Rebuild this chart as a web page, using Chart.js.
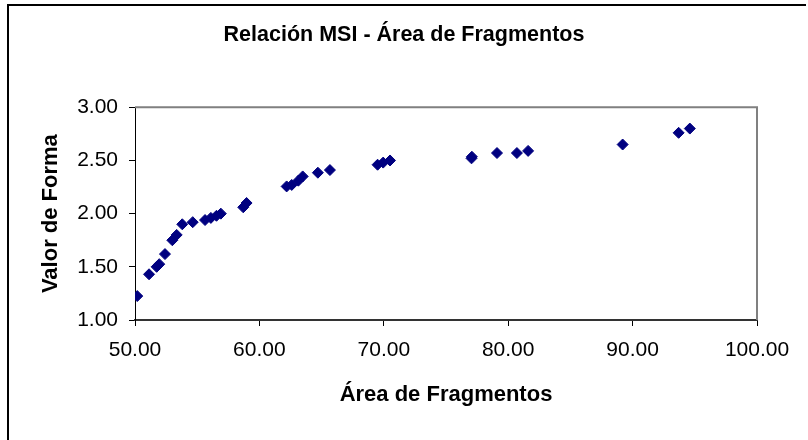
<!DOCTYPE html>
<html>
<head>
<meta charset="utf-8">
<script src="https://cdn.jsdelivr.net/npm/chart.js@4"></script>
<style>
  html, body { margin: 0; padding: 0; background: #fff; }
  #wrap { width: 808px; height: 440px; position: relative; }
</style>
</head>
<body>
<div id="wrap"><canvas id="c" width="808" height="440"></canvas></div>
<script>
const chartTitle = 'Relación MSI - Área de Fragmentos';
const xAxisTitle = 'Área de Fragmentos';
const yAxisTitle = 'Valor de Forma';

const areaValues = [50.18, 51.13, 51.74, 51.95, 52.41, 53.0, 53.35, 53.8, 54.64, 55.63, 56.1, 56.55, 56.9,
  58.7, 58.97, 62.19, 62.6, 63.13, 63.48, 64.7, 65.67, 69.5, 69.95, 70.5, 77.05, 77.08,
  79.1, 80.7, 81.6, 89.2, 93.7, 94.6];
const formValues = [1.225, 1.43, 1.50, 1.525, 1.62, 1.75, 1.80, 1.90, 1.92, 1.94, 1.96, 1.98, 2.00,
  2.06, 2.10, 2.256, 2.27, 2.31, 2.35, 2.385, 2.41, 2.46, 2.48, 2.50, 2.52, 2.535,
  2.57, 2.57, 2.59, 2.65, 2.76, 2.80];

const xMin = 50, xMax = 100, xStep = 10;
const yMin = 1, yMax = 3, yStep = 0.5;

const points = areaValues.map((x, i) => ({ x: x, y: formValues[i] }));

const framePlugin = {
  id: 'frame',
  beforeDatasetsDraw(chart) {
    const { ctx, chartArea: a } = chart;
    ctx.save();
    ctx.strokeStyle = '#808080';
    ctx.lineWidth = 2;
    ctx.beginPath();
    ctx.moveTo(a.left, a.top);
    ctx.lineTo(a.right, a.top);
    ctx.lineTo(a.right, a.bottom);
    ctx.stroke();
    ctx.restore();
  },
  afterDraw(chart) {
    const { ctx } = chart;
    ctx.save();
    ctx.strokeStyle = '#000';
    ctx.lineWidth = 2;
    ctx.beginPath();
    ctx.moveTo(8, 440);
    ctx.lineTo(8, 5);
    ctx.lineTo(806, 5);
    ctx.stroke();
    ctx.restore();
  }
};

const fontFamily = '"Liberation Sans", Arial, sans-serif';

new Chart(document.getElementById('c'), {
  type: 'scatter',
  data: {
    datasets: [{
      data: points,
      pointStyle: 'rectRot',
      pointRadius: 5.5,
      pointHoverRadius: 5.5,
      backgroundColor: '#000080',
      borderColor: '#000080',
      borderWidth: 1
    }]
  },
  options: {
    responsive: false,
    animation: false,
    devicePixelRatio: 1,
    layout: { padding: 0 },
    plugins: {
      legend: { display: false },
      tooltip: { enabled: false },
      title: {
        display: true,
        text: chartTitle,
        color: '#000',
        font: { family: fontFamily, size: 21.5, weight: 'bold' },
        padding: { top: 22, bottom: 59.5 }
      }
    },
    scales: {
      x: {
        type: 'linear',
        min: xMin, max: xMax,
        afterFit(scale) { scale.height = 120; },
        ticks: {
          stepSize: xStep,
          color: '#000',
          padding: 12,
          maxRotation: 0,
          font: { family: fontFamily, size: 21 },
          callback: v => v.toFixed(2)
        },
        grid: { drawOnChartArea: false, drawTicks: true, tickLength: 6, tickColor: '#000' },
        border: { color: '#333', width: 2 },
        title: {
          display: true,
          text: xAxisTitle,
          color: '#000',
          font: { family: fontFamily, size: 22, weight: 'bold' },
          padding: { top: 0, bottom: 31.5 }
        }
      },
      y: {
        type: 'linear',
        min: yMin, max: yMax,
        afterFit(scale) { scale.width = 135; },
        ticks: {
          stepSize: yStep,
          color: '#000',
          padding: 11,
          font: { family: fontFamily, size: 21 },
          callback: v => v.toFixed(2)
        },
        grid: { drawOnChartArea: false, drawTicks: true, tickLength: 6, tickColor: '#000' },
        border: { color: '#000', width: 1 },
        title: {
          display: true,
          text: yAxisTitle,
          color: '#000',
          font: { family: fontFamily, size: 22, weight: 'bold' },
          padding: { top: 37.3, bottom: 0 }
        }
      },
      yRight: {
        type: 'linear',
        position: 'right',
        min: yMin, max: yMax,
        afterFit(scale) { scale.width = 51; },
        ticks: { display: false },
        grid: { display: false },
        border: { display: false },
        title: { display: false }
      }
    }
  },
  plugins: [framePlugin]
});
</script>
</body>
</html>
